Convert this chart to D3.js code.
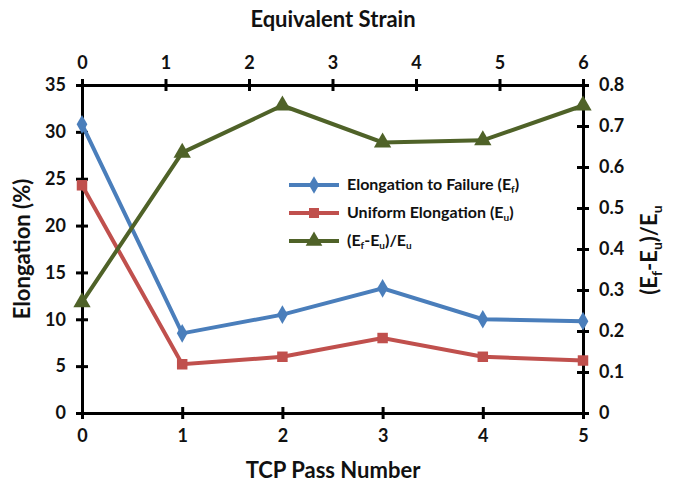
<!DOCTYPE html>
<html>
<head>
<meta charset="utf-8">
<script src="https://cdn.jsdelivr.net/npm/d3@7"></script>
<style>
  body { margin: 0; background: #fff; }
  text { font-family: Lato, "Open Sans", sans-serif; font-weight: bold; fill: #111; }
</style>
</head>
<body>
<svg id="chart" width="674" height="490"></svg>
<script>
// data
var passes = [0, 1, 2, 3, 4, 5];
var elongFailure = [30.8, 8.5, 10.5, 13.3, 10.0, 9.8];
var elongUniform = [24.3, 5.2, 6.0, 8.0, 6.0, 5.6];
var ratio = [0.27, 0.635, 0.75, 0.66, 0.665, 0.75];
var strainTicks = [0, 1, 2, 3, 4, 5, 6];

var svg = d3.select("#chart");
var plotLeft = 82, plotRight = 583, plotTop = 85, plotBottom = 413;

var x = d3.scaleLinear().domain([0, 5]).range([plotLeft, plotRight]);
var xTop = d3.scaleLinear().domain([0, 6]).range([plotLeft, plotRight]);
var y = d3.scaleLinear().domain([0, 35]).range([plotBottom, plotTop]);
var y2 = d3.scaleLinear().domain([0, 0.8]).range([plotBottom, plotTop]);

// Excel-like crossing ticks
function styleAxis(g, dir) {
  g.select(".domain").attr("stroke", "#000").attr("stroke-width", 3);
  g.selectAll(".tick line").attr("stroke", "#000").attr("stroke-width", 3);
  g.selectAll(".tick text").style("font-size", "18px").attr("fill", "#111");
  if (dir === "left") g.selectAll(".tick line").attr("x1", 6).attr("x2", -6);
  if (dir === "right") g.selectAll(".tick line").attr("x1", -6).attr("x2", 6);
  if (dir === "bottom") g.selectAll(".tick line").attr("y1", -6).attr("y2", 6);
  if (dir === "top") g.selectAll(".tick line").attr("y1", 6).attr("y2", -6);
}

var intFmt = d3.format("d");

svg.append("g").attr("transform", "translate(0," + plotBottom + ")")
  .call(d3.axisBottom(x).tickValues(passes).tickFormat(intFmt).tickSizeOuter(0).tickPadding(10))
  .call(styleAxis, "bottom");
svg.append("g").attr("transform", "translate(0," + plotTop + ")")
  .call(d3.axisTop(xTop).tickValues(strainTicks).tickFormat(intFmt).tickSizeOuter(0).tickPadding(10))
  .call(styleAxis, "top");
svg.append("g").attr("transform", "translate(" + plotLeft + ",0)")
  .call(d3.axisLeft(y).ticks(7).tickFormat(intFmt).tickSizeOuter(0).tickPadding(10))
  .call(styleAxis, "left");
svg.append("g").attr("transform", "translate(" + plotRight + ",0)")
  .call(d3.axisRight(y2).ticks(8).tickFormat(function(d) { return d === 0 ? "0" : d3.format(".1f")(d); })
    .tickSizeOuter(0).tickPadding(10))
  .call(styleAxis, "right");

var series = [
  { vals: elongFailure, scale: y, color: "#4a7ebb", shape: d3.symbolDiamond, size: 100 },
  { vals: elongUniform, scale: y, color: "#c0504d", shape: d3.symbolSquare, size: 110 },
  { vals: ratio, scale: y2, color: "#4f6228", shape: d3.symbolTriangle, size: 130 }
];

series.forEach(function(s) {
  var line = d3.line()
    .x(function(d, i) { return x(passes[i]); })
    .y(function(d) { return s.scale(d); });
  svg.append("path").datum(s.vals)
    .attr("d", line).attr("fill", "none")
    .attr("stroke", s.color).attr("stroke-width", 4);
  svg.selectAll(null).data(s.vals).enter().append("path")
    .attr("d", d3.symbol().type(s.shape).size(s.size))
    .attr("transform", function(d, i) { return "translate(" + x(passes[i]) + "," + s.scale(d) + ")"; })
    .attr("fill", s.color);
});

// legend
var legend = svg.append("g");
var legendRows = [
  { color: "#4a7ebb", shape: d3.symbolDiamond, size: 90, base: "Elongation to Failure (E", sub: "f", tail: ")" },
  { color: "#c0504d", shape: d3.symbolSquare, size: 100, base: "Uniform Elongation (E", sub: "u", tail: ")" },
  { color: "#4f6228", shape: d3.symbolTriangle, size: 120 }
];
legendRows.forEach(function(r, i) {
  var ly = 185 + i * 28;
  legend.append("line").attr("x1", 289).attr("x2", 339).attr("y1", ly).attr("y2", ly)
    .attr("stroke", r.color).attr("stroke-width", 4);
  legend.append("path").attr("d", d3.symbol().type(r.shape).size(r.size)())
    .attr("transform", "translate(314," + ly + ")").attr("fill", r.color);
  var t = legend.append("text").attr("x", 347).attr("y", ly + 5).style("font-size", "16px");
  if (r.base) {
    t.append("tspan").text(r.base);
    t.append("tspan").text(r.sub).attr("dy", 3).style("font-size", "10px");
    t.append("tspan").text(r.tail).attr("dy", -3);
  } else {
    t.append("tspan").text("(E");
    t.append("tspan").text("f").attr("dy", 3).style("font-size", "10px");
    t.append("tspan").text("-E").attr("dy", -3);
    t.append("tspan").text("u").attr("dy", 3).style("font-size", "10px");
    t.append("tspan").text(")/E").attr("dy", -3);
    t.append("tspan").text("u").attr("dy", 3).style("font-size", "10px");
  }
});

// axis titles
svg.append("text").attr("x", 333).attr("y", 27).attr("text-anchor", "middle")
  .style("font-size", "22px").text("Equivalent Strain");
svg.append("text").attr("x", 333).attr("y", 478).attr("text-anchor", "middle")
  .style("font-size", "22px").text("TCP Pass Number");
svg.append("text").attr("transform", "translate(30,249) rotate(-90)").attr("text-anchor", "middle")
  .style("font-size", "22px").text("Elongation (%)");

var rt = svg.append("text").attr("transform", "translate(657,250) rotate(-90)").attr("text-anchor", "middle")
  .style("font-size", "22px");
rt.append("tspan").text("(E");
rt.append("tspan").text("f").attr("dy", 5).style("font-size", "14px");
rt.append("tspan").text("-E").attr("dy", -5);
rt.append("tspan").text("u").attr("dy", 5).style("font-size", "14px");
rt.append("tspan").text(")/E").attr("dy", -5);
rt.append("tspan").text("u").attr("dy", 5).style("font-size", "14px");
</script>
</body>
</html>
